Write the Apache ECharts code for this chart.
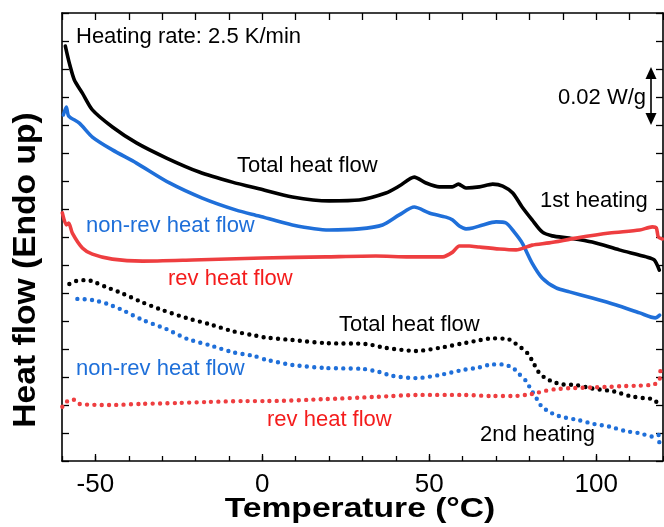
<!DOCTYPE html>
<html>
<head>
<meta charset="utf-8">
<script src="https://cdn.jsdelivr.net/npm/echarts@6/dist/echarts.min.js"></script>
<style>html,body{margin:0;padding:0;background:#fff}#c{width:664px;height:527px}</style>
</head>
<body>
<div id="c"></div>
<script>
// Temperature (°C) and heat flow (arbitrary offset units, 1 unit = 0.01 W/g)
var tTot1 = [-59, -57.8, -56.3, -53.9, -50.9, -44.9, -37.7, -28.7, -18.9, -9, -1, 9, 20, 29, 37, 41, 45.5, 49, 53, 56.9, 58.7, 61, 65, 69, 72, 75, 77.8, 80.8, 83.8, 86.8, 91.9, 98.8, 106.9, 115, 117.4, 118.9];
var yTot1 = [14.82, 14.21, 13.61, 13.14, 12.54, 11.93, 11.36, 10.82, 10.32, 9.96, 9.72, 9.43, 9.29, 9.32, 9.57, 9.82, 10.14, 9.93, 9.79, 9.79, 9.89, 9.75, 9.79, 9.89, 9.82, 9.57, 9.07, 8.61, 8.18, 8.04, 7.96, 7.82, 7.54, 7.29, 7.18, 6.82];

var tNon1 = [-59.6, -58.7, -58, -54.8, -50.9, -44.9, -37.7, -27.8, -18, -7.8, -1, 9, 20, 29, 36, 41, 45.5, 50, 55, 57, 59, 61, 63, 66, 70, 73, 75.4, 77.8, 80.8, 83.8, 88, 92, 98.8, 106, 113, 117.7, 119];
var yNon1 = [12.36, 12.64, 12.32, 12.07, 11.57, 11.11, 10.64, 9.93, 9.39, 8.96, 8.75, 8.43, 8.25, 8.29, 8.43, 8.79, 9.07, 8.86, 8.71, 8.61, 8.39, 8.29, 8.32, 8.43, 8.54, 8.5, 8.18, 7.79, 7.07, 6.54, 6.18, 6.04, 5.82, 5.57, 5.29, 5.11, 5.21];

var tRev1 = [-59.9, -58.7, -58, -56.9, -53.9, -50.9, -44.9, -35.9, -20.9, 0, 19, 34, 44, 54, 57, 59, 62, 65, 71, 76, 80.8, 85.9, 94, 104, 113, 116.8, 118, 118.6, 119.8];
var yRev1 = [8.86, 8.43, 8.5, 8.14, 7.61, 7.39, 7.21, 7.14, 7.18, 7.25, 7.29, 7.32, 7.29, 7.29, 7.46, 7.68, 7.68, 7.64, 7.57, 7.54, 7.71, 7.79, 7.96, 8.14, 8.25, 8.36, 8.32, 8.0, 7.93];

var tTot2 = [-57.8, -55.7, -53.3, -51.2, -46.7, -42.2, -36.2, -29.9, -22.8, -15.9, -9, -3, 1, 9, 19, 31, 37, 46, 53, 60, 64.5, 69, 73.7, 75.4, 77.5, 79.4, 80.7, 82.9, 84.9, 87.1, 89.4, 94.1, 98.4, 100.7, 105.4, 110.1, 114.7, 116.9, 118.7];
var yTot2 = [6.32, 6.43, 6.46, 6.43, 6.21, 6.0, 5.68, 5.39, 5.11, 4.89, 4.64, 4.5, 4.41, 4.32, 4.21, 4.18, 4.04, 3.93, 4.04, 4.2, 4.3, 4.38, 4.35, 4.23, 4.05, 3.85, 3.61, 3.15, 2.95, 2.83, 2.74, 2.71, 2.6, 2.56, 2.48, 2.32, 2.24, 2.21, 2.04];

var tNon2 = [-55.4, -50.9, -46.4, -41.9, -35.9, -28.7, -22.5, -15.9, -9, -2.4, 1, 9, 19, 30, 35, 39, 46, 53, 60, 64.5, 69, 71.6, 73.7, 75.4, 76.9, 78.9, 80.1, 82.4, 83.7, 85.9, 87.9, 90.4, 94.7, 99.4, 103.9, 108.7, 113.1, 116.9, 118.7, 118.9];
var yNon2 = [5.79, 5.75, 5.61, 5.39, 5.04, 4.71, 4.36, 4.14, 3.89, 3.75, 3.62, 3.43, 3.32, 3.29, 3.18, 3.04, 2.96, 3.07, 3.25, 3.33, 3.45, 3.45, 3.4, 3.29, 3.11, 2.87, 2.63, 2.18, 1.94, 1.76, 1.64, 1.56, 1.46, 1.32, 1.23, 1.07, 0.99, 0.87, 0.93, 0.61];

var tRev2 = [-59.9, -58.7, -56.9, -54.8, -45.8, -35.9, -25.7, -15.9, -6, 1, 19, 34, 47, 60, 69, 75.4, 80.1, 82.4, 84.9, 87.4, 91.9, 98.8, 103.9, 108.7, 112.9, 117.4, 118.9, 119.2, 119.4];
var yRev2 = [1.94, 2.11, 2.21, 2.04, 2.0, 2.04, 2.07, 2.11, 2.14, 2.14, 2.21, 2.29, 2.36, 2.36, 2.32, 2.32, 2.38, 2.44, 2.51, 2.56, 2.6, 2.63, 2.65, 2.68, 2.69, 2.74, 2.89, 3.19, 3.46];

var xMajorLabels = [-50, 0, 50, 100];

var BLACK = '#000000', BLUE = '#1f6fd9', RED = '#ee3e40';
var FONT = 'Liberation Sans, Arial, sans-serif';

function pairs(t, y) { return t.map(function (v, i) { return [v, y[i]]; }); }
function solid(name, t, y, color) {
  return { name: name, type: 'line', xAxisIndex: 0, yAxisIndex: 0, data: pairs(t, y), symbol: 'none', smooth: 0.25,
    lineStyle: { color: color, width: 3.6, cap: 'round', join: 'round' }, silent: true, z: 3 };
}
function dotted(name, t, y, color) {
  return { name: name, type: 'line', xAxisIndex: 0, yAxisIndex: 0, data: pairs(t, y), symbol: 'none', smooth: 0.25,
    lineStyle: { color: color, width: 4.4, type: [0, 7.3], cap: 'round' }, silent: true, z: 3 };
}

function label(text, x, y, color) {
  return { type: 'text', x: x, y: y, z: 10, style: { text: text, fill: color, font: '22px ' + FONT, align: 'left', verticalAlign: 'middle' } };
}

var chart = echarts.init(document.getElementById('c'), null, { renderer: 'canvas' });
var axisCommon = { min: -60, max: 120, type: 'value', splitLine: { show: false } };
chart.setOption({
  animation: false,
  backgroundColor: '#fff',
  grid: { left: 62, right: 1, top: 13, bottom: 66 },
  xAxis: [
    Object.assign({}, axisCommon, { position: 'bottom', interval: 10,
      axisLine: { show: true, onZero: false, lineStyle: { color: BLACK, width: 1.6 } },
      axisTick: { inside: true, length: 5, lineStyle: { color: BLACK, width: 1.3 } },
      axisLabel: { show: false } }),
    Object.assign({}, axisCommon, { position: 'bottom',
      axisLine: { show: false, onZero: false },
      axisTick: { show: true, inside: true, length: 7, customValues: xMajorLabels, lineStyle: { color: BLACK, width: 1.3 } },
      axisLabel: { show: true, customValues: xMajorLabels, fontSize: 26, color: BLACK, fontFamily: FONT, margin: 11 } }),
    Object.assign({}, axisCommon, { position: 'top', interval: 10,
      axisLine: { show: true, onZero: false, lineStyle: { color: BLACK, width: 1.6 } },
      axisTick: { inside: true, length: 7, lineStyle: { color: BLACK, width: 1.3 } },
      axisLabel: { show: false } })
  ],
  yAxis: [
    { type: 'value', min: 0, max: 16, interval: 1, position: 'left', splitLine: { show: false },
      axisLine: { show: true, onZero: false, lineStyle: { color: BLACK, width: 1.6 } },
      axisTick: { inside: true, length: 7, lineStyle: { color: BLACK, width: 1.3 } }, axisLabel: { show: false } },
    { type: 'value', min: 0, max: 16, interval: 1, position: 'right', splitLine: { show: false },
      axisLine: { show: true, onZero: false, lineStyle: { color: BLACK, width: 1.6 } },
      axisTick: { inside: true, length: 7, lineStyle: { color: BLACK, width: 1.3 } }, axisLabel: { show: false } }
  ],
  series: [
    solid('Total heat flow (1st)', tTot1, yTot1, BLACK),
    solid('non-rev heat flow (1st)', tNon1, yNon1, BLUE),
    solid('rev heat flow (1st)', tRev1, yRev1, RED),
    dotted('Total heat flow (2nd)', tTot2, yTot2, BLACK),
    dotted('non-rev heat flow (2nd)', tNon2, yNon2, BLUE),
    dotted('rev heat flow (2nd)', tRev2, yRev2, RED)
  ],
  graphic: [
    label('Heating rate: 2.5 K/min', 76, 37, BLACK),
    label('Total heat flow', 237, 166, BLACK),
    label('non-rev heat flow', 86, 226, '#1e6fd9'),
    label('rev heat flow', 168, 279, '#f41c1c'),
    label('1st heating', 540, 201, BLACK),
    label('0.02 W/g', 558, 98, BLACK),
    label('Total heat flow', 339, 325, BLACK),
    label('non-rev heat flow', 76, 369, '#1e6fd9'),
    label('rev heat flow', 267, 420, '#f41c1c'),
    label('2nd heating', 480, 435, BLACK),
    { type: 'line', z: 10, shape: { x1: 651, y1: 75, x2: 651, y2: 117 }, style: { stroke: BLACK, lineWidth: 1.6 } },
    { type: 'polygon', z: 10, shape: { points: [[651, 67], [645.5, 79], [656.5, 79]] }, style: { fill: BLACK } },
    { type: 'polygon', z: 10, shape: { points: [[651, 125], [645.5, 113], [656.5, 113]] }, style: { fill: BLACK } },
    { type: 'text', x: 360, y: 509, scaleX: 1.2, z: 10,
      style: { text: 'Temperature (°C)', fill: BLACK, font: 'bold 28px ' + FONT, align: 'center', verticalAlign: 'middle' } },
    { type: 'text', x: 26.5, y: 270, rotation: Math.PI / 2, scaleX: 1.05, z: 10,
      style: { text: 'Heat flow (Endo up)', fill: BLACK, font: 'bold 32px ' + FONT, align: 'center', verticalAlign: 'middle' } }
  ]
});
</script>
</body>
</html>
